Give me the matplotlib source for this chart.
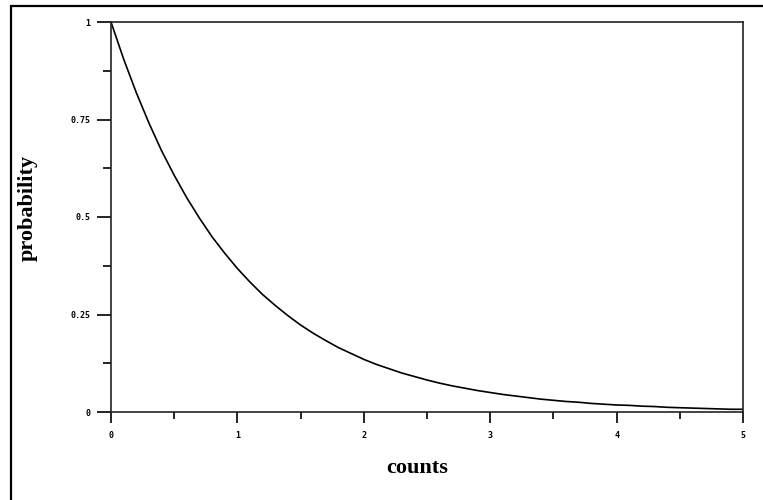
import numpy as np
import matplotlib
matplotlib.use('Agg')
import matplotlib.pyplot as plt
from matplotlib.patches import Rectangle

# values (every 0.1 count)
counts = [0.0, 0.1, 0.2, 0.3, 0.4, 0.5, 0.6, 0.7, 0.8, 0.9,
          1.0, 1.1, 1.2, 1.3, 1.4, 1.5, 1.6, 1.7, 1.8, 1.9,
          2.0, 2.1, 2.2, 2.3, 2.4, 2.5, 2.6, 2.7, 2.8, 2.9,
          3.0, 3.1, 3.2, 3.3, 3.4, 3.5, 3.6, 3.7, 3.8, 3.9,
          4.0, 4.1, 4.2, 4.3, 4.4, 4.5, 4.6, 4.7, 4.8, 4.9, 5.0]
probability = [1.000, 0.905, 0.819, 0.741, 0.670, 0.607, 0.549, 0.497, 0.449, 0.407,
               0.368, 0.333, 0.301, 0.273, 0.247, 0.223, 0.202, 0.183, 0.165, 0.150,
               0.135, 0.122, 0.111, 0.100, 0.091, 0.082, 0.074, 0.067, 0.061, 0.055,
               0.050, 0.045, 0.041, 0.037, 0.033, 0.030, 0.027, 0.025, 0.022, 0.020,
               0.018, 0.017, 0.015, 0.014, 0.012, 0.011, 0.010, 0.009, 0.008, 0.007,
               0.007]

xticks = [0, 1, 2, 3, 4, 5]
xlabels = ['0', '1', '2', '3', '4', '5']
yticks = [0, 0.25, 0.5, 0.75, 1]
ylabels = ['0', '0.25', '0.5', '0.75', '1']

W, H = 763, 500
fig = plt.figure(figsize=(W / 100, H / 100), dpi=100)
fig.patch.set_facecolor('white')

# outer frame (cropped on right and bottom)
fig.patches.append(Rectangle((11 / W, -0.1), 1.2, 1 - 6 / H + 0.1,
                             transform=fig.transFigure, fill=False,
                             edgecolor='black', linewidth=1.6))

ax = fig.add_axes([111 / W, 1 - 412 / H, (743 - 111) / W, (412 - 22) / H])
ax.plot(counts, probability, color='black', linewidth=1.2)
ax.set_xlim(0, 5)
ax.set_ylim(0, 1)

for s in ax.spines.values():
    s.set_linewidth(1.2)
    s.set_color('#222222')

ax.set_xticks(xticks)
ax.set_xticklabels(xlabels)
ax.set_yticks(yticks)
ax.set_yticklabels(ylabels)
ax.set_xticks(np.arange(0.5, 5, 1), minor=True)
ax.set_yticks([0.125, 0.375, 0.625, 0.875], minor=True)
ax.tick_params(axis='x', which='major', direction='out', length=8, width=1.2,
               pad=6, labelsize=6)
ax.tick_params(axis='x', which='minor', direction='out', length=5, width=1.2)
ax.tick_params(axis='y', which='major', direction='out', length=10, width=1.2,
               pad=5, labelsize=6)
ax.tick_params(axis='y', which='minor', direction='out', length=6, width=1.2)
for lab in ax.get_xticklabels() + ax.get_yticklabels():
    lab.set_fontweight('bold')
    lab.set_family('DejaVu Sans Mono')

fig.text(417 / W, 1 - 468 / H, 'counts', family='Liberation Serif',
         fontweight='bold', fontsize=16, ha='center', va='center')
fig.text(28 / W, 1 - 208 / H, 'probability', family='Liberation Serif',
         fontweight='bold', fontsize=16, ha='center', va='center',
         rotation=90)

fig.savefig('out.png', dpi=100)
